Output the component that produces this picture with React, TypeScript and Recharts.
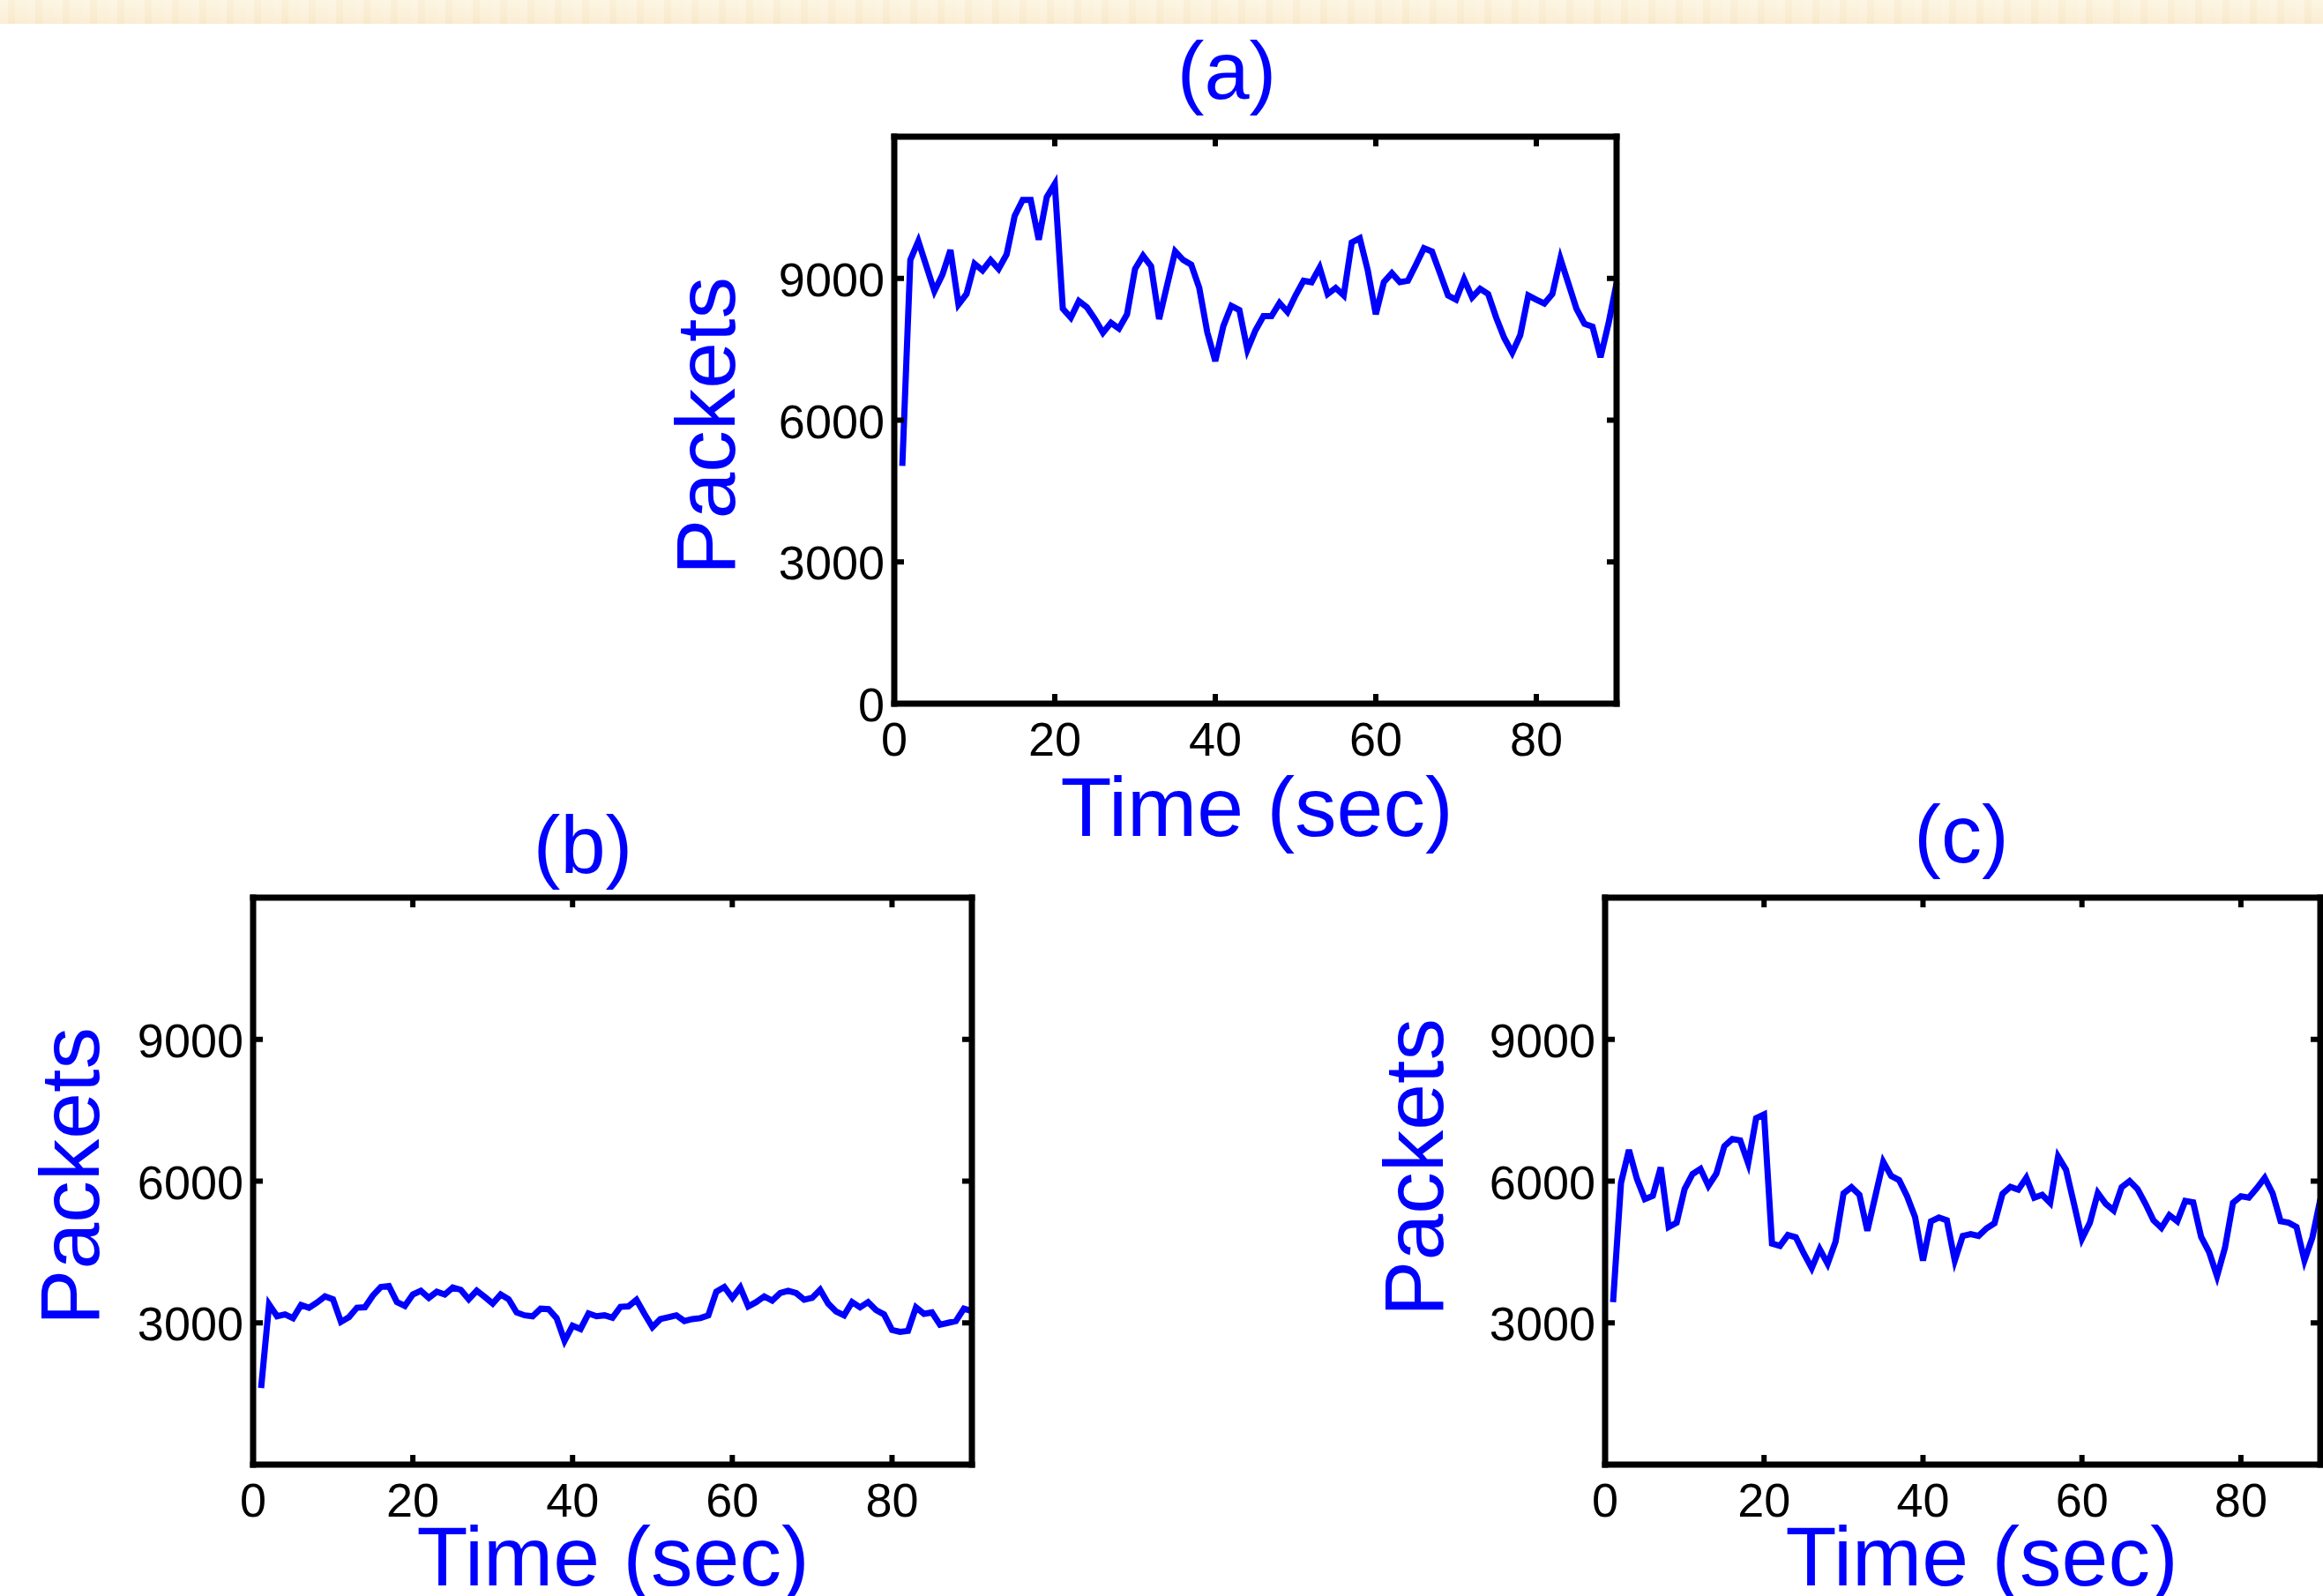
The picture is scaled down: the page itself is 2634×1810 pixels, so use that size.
import React from "react"
import { LineChart, Line, XAxis, YAxis, Label } from "recharts"

// time axis (sec)
const seconds = [
  1, 2, 3, 4, 5, 6, 7, 8, 9, 10, 11, 12, 13, 14, 15, 16, 17, 18, 19, 20,
  21, 22, 23, 24, 25, 26, 27, 28, 29, 30, 31, 32, 33, 34, 35, 36, 37, 38, 39, 40,
  41, 42, 43, 44, 45, 46, 47, 48, 49, 50, 51, 52, 53, 54, 55, 56, 57, 58, 59, 60,
  61, 62, 63, 64, 65, 66, 67, 68, 69, 70, 71, 72, 73, 74, 75, 76, 77, 78, 79, 80,
  81, 82, 83, 84, 85, 86, 87, 88, 89, 90,
]

const packetsA = [
  5030, 9390, 9790, 9260, 8730, 9080, 9600, 8450, 8670, 9310,
  9170, 9390, 9200, 9510, 10320, 10660, 10660, 9820, 10720, 11000,
  8360, 8170, 8520, 8390, 8140, 7850, 8060, 7940, 8240, 9200,
  9480, 9260, 8140, 8860, 9570, 9390, 9290, 8800, 7860, 7250,
  7990, 8420, 8330, 7490, 7900, 8200, 8200, 8480, 8290, 8640,
  8950, 8920, 9230, 8670, 8800, 8640, 9760, 9850, 9170, 8240,
  8920, 9110, 8920, 8950, 9290, 9640, 9570, 9110, 8640, 8550,
  8980, 8600, 8780, 8670, 8170, 7740, 7430, 7800, 8640, 8550,
  8470, 8670, 9420, 8890, 8360, 8040, 7980, 7330, 8050, 8900,
]

const packetsB = [
  1620, 3390, 3140, 3180, 3100, 3380, 3320, 3430, 3560, 3500,
  3020, 3120, 3320, 3330, 3580, 3760, 3780, 3440, 3360, 3600,
  3680, 3530, 3660, 3600, 3750, 3700, 3500, 3680, 3550, 3410,
  3600, 3500, 3220, 3160, 3140, 3300, 3290, 3100, 2620, 2940,
  2870, 3200, 3140, 3160, 3110, 3340, 3350, 3490, 3190, 2910,
  3080, 3120, 3160, 3040, 3080, 3100, 3160, 3660, 3760, 3530,
  3750, 3350, 3440, 3560, 3470, 3630, 3680, 3630, 3490, 3530,
  3700, 3410, 3240, 3160, 3440, 3330, 3440, 3270, 3180, 2850,
  2810, 2830, 3330, 3190, 3220, 2960, 3000, 3040, 3300, 3250,
]

const packetsC = [
  3440, 5960, 6660, 6050, 5620, 5690, 6290, 5030, 5120, 5830,
  6150, 6260, 5900, 6160, 6740, 6890, 6860, 6380, 7330, 7410,
  4680, 4630, 4860, 4810, 4470, 4160, 4560, 4250, 4720, 5740,
  5870, 5710, 4950, 5680, 6410, 6110, 6020, 5680, 5240, 4320,
  5150, 5230, 5170, 4320, 4840, 4880, 4840, 5000, 5110, 5730,
  5880, 5820, 6070, 5650, 5710, 5540, 6520, 6240, 5520, 4780,
  5120, 5750, 5520, 5380, 5870, 6000, 5830, 5520, 5170, 5010,
  5280, 5150, 5580, 5550, 4820, 4500, 3990, 4590, 5540, 5680,
  5650, 5850, 6070, 5740, 5150, 5120, 5030, 4320, 4810, 5620,
]

const xTicks = [0, 20, 40, 60, 80]
const yTicksA = [0, 3000, 6000, 9000]
const yTicksBC = [3000, 6000, 9000]

const FONT = "'Liberation Sans', Arial, Helvetica, sans-serif"
const BLUE = "#0000ff"
const TICK = 11
const ML = 280
const MT = 139 // + 1px top axis
const MR = 19 // + 1px right axis
const MB = 200

type PanelProps = {
  values: number[]
  yTicks: number[]
  plotX: number
  plotY: number
  plotW: number
  plotH: number
  title: string
  titleX: number
  titleBase: number
  xlabX: number
  xlabBase: number
  ylabX: number
  ylabY: number
}

function Panel(p: PanelProps) {
  const data = seconds.map((t, i) => ({ t, v: p.values[i] }))
  const left = p.plotX - ML
  const top = p.plotY - MT - 1
  const axisLine = { stroke: "#000", strokeWidth: 7, strokeLinecap: "square" as const }

  const bottomTick = (props: any) => {
    const { x, y, payload } = props
    return (
      <g>
        <line x1={x} x2={x} y1={y} y2={y - TICK} stroke="#000" strokeWidth={6} />
        <text x={x} y={y + 59} textAnchor="middle" fontSize={54} fill="#000" fontFamily={FONT}>
          {payload.value}
        </text>
      </g>
    )
  }
  const topTick = (props: any) => {
    const { x, y } = props
    return <line x1={x} x2={x} y1={y} y2={y + TICK} stroke="#000" strokeWidth={6} />
  }
  const leftTick = (props: any) => {
    const { x, y, payload } = props
    return (
      <g>
        <line x1={x} x2={x + TICK} y1={y} y2={y} stroke="#000" strokeWidth={6} />
        <text x={x - 11} y={y + 20} textAnchor="end" fontSize={54} fill="#000" fontFamily={FONT}>
          {payload.value}
        </text>
      </g>
    )
  }
  const rightTick = (props: any) => {
    const { x, y } = props
    return <line x1={x} x2={x - TICK} y1={y} y2={y} stroke="#000" strokeWidth={6} />
  }

  const tx = p.titleX - left
  const ty = p.titleBase - top
  const lx = p.xlabX - left
  const ly = p.xlabBase - top
  const px = p.ylabX - left
  const py = p.ylabY - top

  return (
    <div style={{ position: "absolute", left, top }}>
      <LineChart
        width={ML + p.plotW + MR + 1}
        height={MT + 1 + p.plotH + MB}
        data={data}
        margin={{ top: MT, right: MR, bottom: 0, left: 0 }}
      >
        <XAxis
          dataKey="t"
          type="number"
          domain={[0, 90]}
          ticks={xTicks}
          interval={0}
          height={MB}
          tickLine={false}
          tickSize={0}
          tickMargin={0}
          axisLine={axisLine}
          tick={bottomTick}
        >
          <Label
            content={() => (
              <text x={lx} y={ly} textAnchor="middle" fontSize={95} fill={BLUE} fontFamily={FONT}>
                Time (sec)
              </text>
            )}
          />
        </XAxis>
        <XAxis
          xAxisId="top"
          dataKey="t"
          orientation="top"
          type="number"
          domain={[0, 90]}
          ticks={xTicks}
          interval={0}
          height={1}
          tickLine={false}
          tickSize={0}
          tickMargin={0}
          axisLine={axisLine}
          tick={topTick}
        >
          <Label
            content={() => (
              <text x={tx} y={ty} textAnchor="middle" fontSize={92} fill={BLUE} fontFamily={FONT}>
                {p.title}
              </text>
            )}
          />
        </XAxis>
        <YAxis
          type="number"
          domain={[0, 12000]}
          ticks={p.yTicks}
          interval={0}
          width={ML}
          tickLine={false}
          tickSize={0}
          tickMargin={0}
          axisLine={axisLine}
          tick={leftTick}
        >
          <Label
            content={() => (
              <text
                x={px}
                y={py}
                transform={`rotate(-90 ${px} ${py})`}
                textAnchor="middle"
                fontSize={95}
                fill={BLUE}
                fontFamily={FONT}
              >
                Packets
              </text>
            )}
          />
        </YAxis>
        <YAxis
          yAxisId="right"
          orientation="right"
          type="number"
          domain={[0, 12000]}
          ticks={p.yTicks}
          interval={0}
          width={1}
          tickLine={false}
          tickSize={0}
          tickMargin={0}
          axisLine={axisLine}
          tick={rightTick}
        />
        {/* box axes (top / right) need a series to be drawn; this one stays invisible */}
        <Line
          xAxisId="top"
          yAxisId="right"
          type="linear"
          dataKey="v"
          stroke="none"
          strokeWidth={0}
          dot={false}
          activeDot={false}
          legendType="none"
          isAnimationActive={false}
        />
        <Line
          type="linear"
          dataKey="v"
          stroke={BLUE}
          strokeWidth={7}
          dot={false}
          activeDot={false}
          isAnimationActive={false}
        />
      </LineChart>
    </div>
  )
}

export default function App() {
  return (
    <div
      style={{
        position: "absolute",
        left: 0,
        top: 0,
        width: 2634,
        height: 1810,
        background: "#fff",
        overflow: "hidden",
      }}
    >
      <div
        style={{
          position: "absolute",
          left: 0,
          top: 0,
          width: 2634,
          height: 27,
          background:
            "repeating-linear-gradient(90deg, rgba(255,255,255,0.18) 0 9px, rgba(240,220,180,0.12) 9px 17px, rgba(255,252,240,0.15) 17px 31px), linear-gradient(180deg, #fcf4e0 0%, #fbf0d8 45%, #f9eacd 100%)",
        }}
      />
      <Panel
        values={packetsA}
        yTicks={yTicksA}
        plotX={1014}
        plotY={155}
        plotW={819}
        plotH={643}
        title="(a)"
        titleX={1391}
        titleBase={112}
        xlabX={1425}
        xlabBase={948}
        ylabX={833}
        ylabY={483}
      />
      <Panel
        values={packetsB}
        yTicks={yTicksBC}
        plotX={287}
        plotY={1018}
        plotW={815}
        plotH={643}
        title="(b)"
        titleX={661}
        titleBase={990}
        xlabX={695}
        xlabBase={1798}
        ylabX={112}
        ylabY={1334}
      />
      <Panel
        values={packetsC}
        yTicks={yTicksBC}
        plotX={1820}
        plotY={1018}
        plotW={811}
        plotH={643}
        title="(c)"
        titleX={2224}
        titleBase={978}
        xlabX={2247}
        xlabBase={1798}
        ylabX={1636}
        ylabY={1324}
      />
    </div>
  )
}
